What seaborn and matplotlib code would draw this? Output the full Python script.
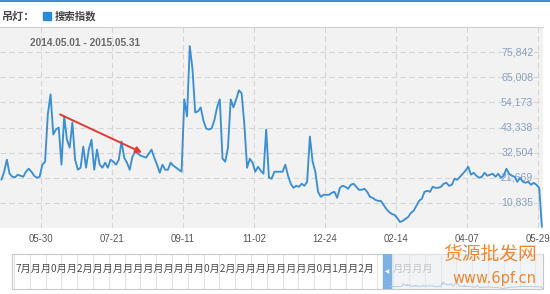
import numpy as np
import pandas as pd
import matplotlib
matplotlib.use("Agg")
import matplotlib.pyplot as plt
import matplotlib.dates as mdates
from matplotlib.patches import Rectangle
import seaborn as sns

# ---------------- data ----------------
start_date = "2014-05-01"
values = [
    20803, 24270, 29471, 23400, 22103, 21900, 22970, 22540, 22103, 24270,
    25570, 24270, 22540, 21670, 22103, 27304, 28604, 48974, 57642, 40306,
    42473, 43340, 27304, 48107, 38139, 34672, 45507, 29471, 25137, 26004,
    35105, 26004, 33805, 38139, 25137, 33805, 27304, 26004, 28171, 26004,
    29471, 28604, 27304, 29471, 37272, 30338, 28171, 25137, 30771, 32938,
    32071, 31204, 30771, 30338, 32071, 33805, 30338, 27304, 23837, 27304,
    25137, 25137, 28171, 26870, 26004, 25137, 24270, 55475, 48107, 78445,
    68477, 49841, 50274, 52008, 46374, 42906, 42473, 42906, 46374, 52008,
    55475, 29904, 28604, 34672, 55475, 52008, 55475, 59376, 58076, 44640,
    26004, 29904, 28171, 24270, 26437, 24704, 23404, 42473, 21670, 21236,
    24270, 24270, 24270, 24270, 27304, 22540, 19070, 17336, 18203, 17769,
    19070, 18203, 19936, 39439, 28604, 24270, 15602, 13435, 14302, 14302,
    14302, 15169, 15602, 13002, 17336, 18203, 17769, 16903, 18636, 19070,
    17769, 16469, 16469, 16903, 15602, 13435, 13002, 12135, 11702, 11702,
    9968, 8235, 6934, 6068, 5634, 4334, 2600, 3034, 3900, 4767,
    6501, 7367, 9535, 11702, 12568, 15602, 16036, 15602, 17769, 17336,
    17336, 17769, 19070, 19503, 18203, 18636, 21236, 20803, 22103, 23404,
    24704, 26437, 22970, 23837, 22540, 21670, 22103, 23837, 22540, 22970,
    23404, 22103, 23404, 21670, 22540, 25570, 23404, 22540, 22103, 19936,
    21670, 19936, 19503, 19936, 18636, 19503, 18636, 17336, 500,
]
dates = pd.date_range(start_date, periods=len(values), freq="2D")
df = pd.DataFrame({"date": dates, "value": values})

ytick_values = [10835, 21669, 32504, 43338, 54173, 65008, 75842]
ytick_labels = ["10,835", "21,669", "32,504", "43,338", "54,173", "65,008", "75,842"]
xtick_dates = ["2014-05-30", "2014-07-21", "2014-09-11", "2014-11-02",
               "2014-12-24", "2015-02-14", "2015-04-07", "2015-05-29"]
xtick_labels = ["05-30", "07-21", "09-11", "11-02", "12-24", "02-14", "04-07", "05-29"]
title_keyword = "吊灯："
legend_label = "搜索指数"
range_label = "2014.05.01 - 2015.05.31"
arrow_from = ("2014-06-13", 48974)
arrow_to = ("2014-08-12", 32505)
nav_text_left = "7月月月0月月2月月月月月月月月月月月月0月2月月月月月月月月月0月1月月2月"
nav_text_right = "月月月月"
watermark_cn = "货源批发网"
watermark_url = "www.6pf.cn"

# ---------------- style ----------------
sns.set_theme(style="white")
plt.rcParams["font.family"] = ["Liberation Sans", "Noto Sans CJK SC", "DejaVu Sans"]
CJK = ["Noto Sans CJK SC", "DejaVu Sans"]

W, H = 550, 294
fig = plt.figure(figsize=(W / 100, H / 100), dpi=100)
fig.patch.set_facecolor("white")

def fx(px):
    return px / W

def fy(py):
    return 1 - py / H

# main axes
ax = fig.add_axes([0, fy(228), fx(543), fy(27) - fy(228)])
ax.set_facecolor("#f2f2f2")
line_color = "#3d8fd1"
sns.lineplot(data=df, x="date", y="value", ax=ax, color=line_color, linewidth=1.35)

x0 = mdates.date2num(pd.Timestamp(start_date))
ax.set_xlim(x0 - 1.03, x0 + 396.8)
ax.set_ylim(0, 75842 / 7 * 8)

ax.set_yticks(ytick_values)
ax.set_yticklabels([])
ax.tick_params(axis="y", length=0)
for v, lab in zip(ytick_values, ytick_labels):
    ax.text(0.982, v, lab, transform=ax.get_yaxis_transform(), ha="right",
            va="center", fontsize=7.6, color="#8aa2c2", zorder=1)

xt = [mdates.date2num(pd.Timestamp(d)) for d in xtick_dates]
ax.set_xticks(xt)
ax.set_xticklabels(xtick_labels, fontsize=6.9, color="#555555")
ax.tick_params(axis="x", length=0, pad=4)
ax.set_xlabel("")
ax.set_ylabel("")

ax.grid(True, axis="both", color="#d6d6d6", linestyle=(0, (5, 3)), linewidth=0.8)
ax.set_axisbelow(True)
for s in ["left", "right", "bottom"]:
    ax.spines[s].set_visible(False)
ax.spines["top"].set_color("#cfcfcf")
ax.spines["top"].set_linewidth(0.8)

fig.text(fx(85), fy(42.5), range_label,
         ha="center", va="center", fontsize=7.3, fontweight="bold", color="#6a6a6a")

ax.annotate("", xy=(mdates.date2num(pd.Timestamp(arrow_to[0])), arrow_to[1]),
            xytext=(mdates.date2num(pd.Timestamp(arrow_from[0])), arrow_from[1]),
            arrowprops=dict(arrowstyle="-|>", color="#e23b2e", lw=1.4,
                            mutation_scale=9, shrinkA=0, shrinkB=0), zorder=5)

# header
fig.add_artist(plt.Line2D([0, 1], [fy(0.8), fy(0.8)], color="#3f8fd2", lw=1.5))
fig.text(fx(2), fy(16), title_keyword, family=CJK, fontsize=8, fontweight="bold",
         color="#444444", va="center", ha="left")
fig.add_artist(Rectangle((fx(43), fy(20)), fx(8), fy(12) - fy(20),
                         transform=fig.transFigure, color="#2a8ad6"))
fig.text(fx(55), fy(16), legend_label, family=CJK, fontsize=7.5, fontweight="bold",
         color="#444444", va="center", ha="left")

# navigator frame
nav_rect = [fx(12), fy(289), fx(531), fy(254) - fy(289)]
nav = fig.add_axes(nav_rect)
nav.set_facecolor("white")
nav.set_xlim(0, 531)
nav.set_ylim(0, 1)
nav.set_xticks([])
nav.set_yticks([])
for s in nav.spines.values():
    s.set_color("#c8c8c8")
    s.set_linewidth(0.8)
for i in range(34):
    nav.axvline(2 + i * 15.8, color="#e2e2e2", lw=0.8, zorder=0)

# mini line in navigator (selected range)
nav2 = fig.add_axes(nav_rect)
nav2.set_axis_off()
nav2.patch.set_alpha(0)
sns.lineplot(data=df, x="date", y="value", ax=nav2, color="#a9c4de",
             linewidth=0.7, alpha=0.8)
nav2.set_xlim(x0 - 378 * 2.588, x0 + 396.8)
nav2.set_ylim(-5000, 400000)

nav.text(3, 0.57, nav_text_left, family=CJK, fontsize=7.3, color="#4a4a4a",
         ha="left", va="center", zorder=2)
nav.text(381, 0.57, nav_text_right, family=CJK, fontsize=7.3, color="#8a8a8a",
         ha="left", va="center", zorder=2, clip_on=True)
nav.add_patch(Rectangle((378, 0), 153, 1, color="#e9ecef", alpha=0.6, zorder=3))
nav.add_patch(Rectangle((371, 0), 8, 1, color="#7fb2e2", zorder=4))
nav.text(375, 0.5, "◀", fontsize=4, color="#ffffff", ha="center", va="center",
         family=["DejaVu Sans"], zorder=5)

# watermark
fig.text(fx(490), fy(254.5), watermark_cn, family=CJK, fontsize=13.5, color="#f07a1a",
         ha="center", va="center", alpha=0.9)
fig.text(fx(494), fy(279), watermark_url, family=["DejaVu Sans"], fontsize=10.5,
         color="#f07a1a", ha="center", va="center", alpha=0.9)

fig.savefig("out.png", dpi=100)
